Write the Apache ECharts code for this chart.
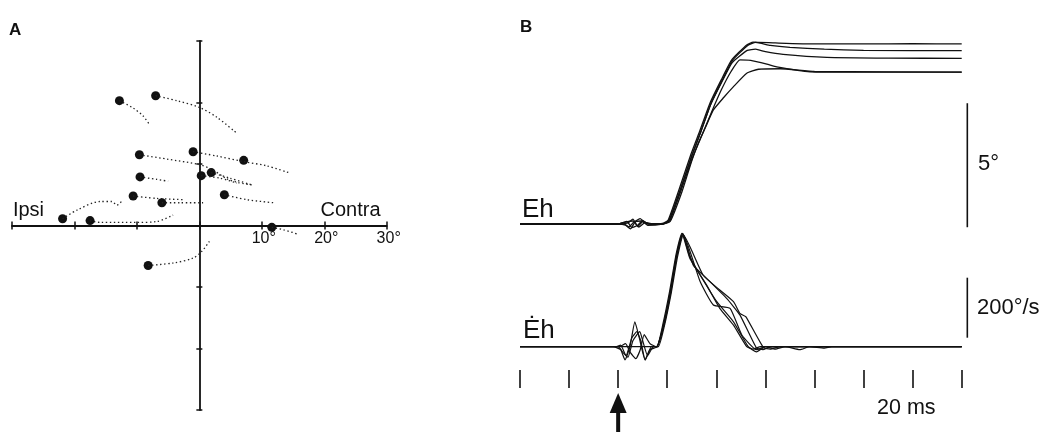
<!DOCTYPE html>
<html>
<head>
<meta charset="utf-8">
<script src="https://cdn.jsdelivr.net/npm/echarts@6/dist/echarts.min.js"></script>
<style>
  html, body { margin: 0; padding: 0; background: #fff; }
  #chart { width: 1041px; height: 432px; }
</style>
</head>
<body>
<div id="chart"></div>
<script>
// ---- panel A : start points (deg) and their dotted trajectories ----
const dotsA = [
  [-12.8, 20.3], [-7.0, 21.1], [-9.6, 11.5], [-1.0, 12.0], [7.1, 10.6],
  [-9.5, 7.9], [0.3, 8.1], [1.9, 8.6], [-10.6, 4.8], [-6.0, 3.7],
  [4.0, 5.0], [-21.9, 1.1], [-17.5, 0.8], [11.6, -0.3], [-8.2, -6.5]
];
const trajA = [
  [[-12.8, 20.3], [-10.6, 19.1], [-9.0, 17.8], [-7.9, 16.3]],
  [[-7.0, 21.1], [-3.6, 20.3], [0, 19.2], [2.8, 17.6], [6.0, 15.0]],
  [[-9.6, 11.5], [-5.2, 10.8], [0, 9.9], [2.2, 9.0], [4.4, 7.6], [6.2, 7.0], [8.4, 6.6]],
  [[-1.0, 12.0], [2.8, 11.3], [7.0, 10.4], [10.8, 9.7], [14.3, 8.6]],
  [[-9.5, 7.9], [-6.8, 7.5], [-5.0, 7.2]],
  [[0.3, 8.1], [3.3, 7.7], [6.0, 6.9]],
  [[1.9, 8.6], [4.9, 7.7], [8.4, 6.6]],
  [[-10.6, 4.8], [-6.8, 4.4], [-2.3, 4.2]],
  [[-6.0, 3.7], [-3.1, 3.7], [0.6, 3.7]],
  [[4.0, 5.0], [7.6, 4.2], [11.9, 3.7]],
  [[-21.9, 1.1], [-19.6, 2.5], [-15.9, 3.9], [-14.0, 3.9], [-13.2, 3.3], [-12.3, 4.1]],
  [[-17.5, 0.8], [-15.9, 0.5], [-10.0, 0.5], [-6.8, 0.65], [-4.2, 1.7]],
  [[11.6, -0.3], [13.5, -0.7], [15.6, -1.35]],
  [[-8.2, -6.5], [-4.2, -6.1], [-1.0, -5.3], [0.4, -4.2], [1.6, -2.6]]
];
const degTickLabels = [10, 20, 30];

// ---- panel B : eye position Eh (deg) vs time (ms) ----
const eh1 = [[0,0],[20,0],[21.5,-0.05],[22.5,-0.2],[23.5,0.1],[24.5,0.22],[25.5,0.05],[27,0],[29,0.02],[30.2,0.16],[32.6,1.5],[34.9,2.85],[36.7,3.79],[38.7,4.87],[41,5.81],[43.1,6.61],[46.2,7.22],[47.5,7.33],[52,7.3],[60,7.26],[70,7.26],[80,7.27],[90,7.26]];
const eh2 = [[0,0],[20,0],[21.8,0.1],[22.8,-0.15],[24,-0.05],[25,0.15],[26,0],[29,0],[30.4,0.15],[32.8,1.45],[35.1,2.8],[36.9,3.75],[38.9,4.85],[41.2,5.8],[43.3,6.6],[46.4,7.2],[48,7.32],[51,7.2],[55,7.12],[62,7.05],[70,7.0],[90,6.99]];
const eh3 = [[0,0],[20,0],[22,0.05],[23,0.2],[24,-0.1],[25,0.1],[26.5,0],[29,0],[30.3,0.12],[32.7,1.4],[35,2.75],[36.8,3.7],[38.8,4.8],[41.1,5.72],[43.2,6.5],[46.3,7.0],[48,7.05],[50,6.95],[53.6,6.84],[62.5,6.72],[75,6.69],[90,6.68]];
const eh4 = [[0,0],[20,0],[21.2,0],[22.2,-0.12],[23.2,0.08],[24.8,0.12],[26,-0.05],[29,0],[30.5,0.12],[32.9,1.4],[35.2,2.7],[37,3.55],[39,4.5],[41,5.4],[43,6.15],[44.8,6.62],[47,6.6],[50.3,6.45],[52.3,6.34],[59.1,6.14],[70,6.12],[90,6.12]];
const eh5 = [[0,0],[20,0],[21.5,0.08],[23,0.12],[24.2,-0.12],[25.5,0.06],[27,0],[29,0],[30.6,0.1],[33,1.3],[35,2.55],[36.2,3.2],[37.8,3.9],[39.4,4.6],[41.5,5.1],[43.5,5.54],[46.2,6.08],[48.6,6.24],[53,6.26],[60,6.15],[90,6.12]];

// ---- panel B : eye velocity (deg/s) vs time (ms) ----
const vel1 = [[0,0],[19,0],[20.5,-10],[21.4,-44],[22.4,0],[23.4,83],[24.3,30],[25.5,-44],[26.8,0],[27.9,0],[29.2,72],[30.6,183],[31.9,306],[33.1,378],[34.6,300],[36.7,239],[40.1,150],[43.5,83],[46.5,0],[48.2,-17],[50,0],[52,-8],[54,0],[57,-10],[59,0],[62,-5],[63.5,0],[90,0]];
const vel2 = [[0,0],[19.5,0],[20.5,5],[21.6,-30],[22.8,30],[23.8,50],[24.6,20],[25.5,-44],[26.5,-10],[28,0],[29.3,70],[30.7,180],[32,310],[33.2,375],[35.3,272],[38,228],[42.1,161],[44.8,106],[48.2,-5],[49.5,-10],[51,0],[90,0]];
const vel3 = [[0,0],[20,0],[21,-20],[22,-35],[23,20],[24.4,50],[25,20],[26,-30],[27.2,0],[28.2,0],[29.4,68],[30.8,178],[32.1,300],[33.3,372],[37.3,239],[40.7,189],[43.5,150],[44.8,111],[46,100],[49.6,-3],[51,-8],[53,0],[90,0]];
const vel4 = [[0,0],[20.2,0],[21.5,10],[22.5,-20],[23.6,-40],[24.5,-10],[25.3,40],[26.5,10],[27.8,0],[29.3,70],[30.7,182],[32,305],[33.2,376],[36.7,217],[39.4,139],[42.8,128],[45.2,39],[48.2,-10],[50,0],[90,0]];
const vel5 = [[0,0],[27,0],[27.9,0],[29.1,74],[30.5,186],[31.8,308],[33,378],[34.6,295],[38,206],[40.7,128],[43.5,72],[46.2,0],[47.5,-8],[49,0],[90,0]];
const timeTicks = [0, 10, 20, 30, 40, 50, 60, 70, 80, 90];

// scale bars and stimulus arrow (data units of panel B)
const posScaleBar = [[91.14, -0.13], [91.14, 4.87]];   // 5 deg
const velScaleBar = [[91.14, 30], [91.14, 230]];       // 200 deg/s
const arrowShaft = [[20, -285], [20, -215]];
const arrowHead = [[20, -188]];

const FONT = '"Liberation Sans", Arial, Helvetica, sans-serif';
const INK = '#111';

function txt(text, x, y, size, align, bold) {
  return {
    type: 'text', x: x, y: y, silent: true,
    style: {
      text: text, fill: INK, align: align || 'left', verticalAlign: 'top',
      font: (bold ? 'bold ' : '') + size + 'px ' + FONT
    }
  };
}

const chart = echarts.init(document.getElementById('chart'), null, { renderer: 'canvas' });

const hidden = { show: false };
const series = [];

// panel A trajectories
trajA.forEach(function (tr) {
  series.push({
    type: 'line', xAxisIndex: 0, yAxisIndex: 0, data: tr, smooth: 0.3,
    symbol: 'none', silent: true,
    lineStyle: { color: '#222', width: 1.3, type: [1.4, 2.6] }
  });
});
series.push({
  type: 'scatter', xAxisIndex: 0, yAxisIndex: 0, data: dotsA,
  symbolSize: 9, itemStyle: { color: INK, opacity: 1 }, silent: true
});
// degree labels along the horizontal axis
series.push({
  type: 'scatter', xAxisIndex: 0, yAxisIndex: 0, silent: true,
  data: degTickLabels.map(function (v) { return [v, 0]; }),
  symbolSize: 1, itemStyle: { color: 'rgba(0,0,0,0)', opacity: 1 },
  label: {
    show: true, position: 'bottom', distance: 5, offset: [2, 0],
    color: INK, fontSize: 16, fontFamily: FONT,
    formatter: function (p) { return p.value[0] + '°'; }
  }
});

// panel B traces
[eh1, eh2, eh3, eh4, eh5].forEach(function (d) {
  series.push({
    type: 'line', xAxisIndex: 2, yAxisIndex: 2, data: d, smooth: 0.15,
    symbol: 'none', silent: true, clip: false,
    lineStyle: { color: INK, width: 1.3 }
  });
});
[vel1, vel2, vel3, vel4, vel5].forEach(function (d) {
  series.push({
    type: 'line', xAxisIndex: 3, yAxisIndex: 3, data: d, smooth: 0.15,
    symbol: 'none', silent: true, clip: false,
    lineStyle: { color: INK, width: 1.2 }
  });
});
series.push({
  type: 'line', xAxisIndex: 2, yAxisIndex: 2, data: posScaleBar, symbol: 'none',
  clip: false, silent: true, lineStyle: { color: INK, width: 1.6 }
});
series.push({
  type: 'line', xAxisIndex: 3, yAxisIndex: 3, data: velScaleBar, symbol: 'none',
  clip: false, silent: true, lineStyle: { color: INK, width: 1.6 }
});
series.push({
  type: 'line', xAxisIndex: 3, yAxisIndex: 3, data: arrowShaft, symbol: 'none',
  clip: false, silent: true, lineStyle: { color: INK, width: 4 }
});
series.push({
  type: 'scatter', xAxisIndex: 3, yAxisIndex: 3, data: arrowHead, symbol: 'triangle',
  symbolSize: [17, 20], clip: false, silent: true, itemStyle: { color: INK, opacity: 1 }
});

const axisLineA = { color: INK, width: 1.8 };

chart.setOption({
  animation: false,
  backgroundColor: '#fff',
  grid: [
    { left: 12, top: 41, width: 374.7, height: 369, outerBoundsMode: 'none' },
    { left: 520, top: 25.6, width: 490.8, height: 223.2, outerBoundsMode: 'none' },
    { left: 520, top: 226.7, width: 490.8, height: 150, outerBoundsMode: 'none' }
  ],
  xAxis: [
    {
      gridIndex: 0, type: 'value', min: -30, max: 30, interval: 10, position: 'bottom',
      axisLine: { show: true, onZero: true, onZeroAxisIndex: 0, lineStyle: axisLineA },
      axisTick: { show: true, length: 4, lineStyle: { color: INK, width: 1.5 } },
      axisLabel: hidden,
      splitLine: hidden
    },
    {
      gridIndex: 0, type: 'value', min: -30, max: 30, interval: 10, position: 'top',
      axisLine: { show: false, onZero: true, onZeroAxisIndex: 0 },
      axisTick: { show: true, length: 4, lineStyle: { color: INK, width: 1.5 } },
      axisLabel: hidden, splitLine: hidden
    },
    {
      gridIndex: 1, type: 'value', min: 0, max: 100, interval: 10,
      axisLine: hidden, axisTick: hidden, axisLabel: hidden, splitLine: hidden
    },
    {
      gridIndex: 2, type: 'value', min: 0, max: 100, interval: 10, position: 'bottom',
      offset: -6.7,
      axisLine: { show: false, onZero: false },
      axisTick: { show: true, length: 18, customValues: timeTicks, lineStyle: { color: INK, width: 1.6 } },
      axisLabel: hidden, splitLine: hidden
    }
  ],
  yAxis: [
    {
      gridIndex: 0, type: 'value', min: -30, max: 30, interval: 10, position: 'left',
      axisLine: { show: true, onZero: true, onZeroAxisIndex: 0, lineStyle: axisLineA },
      axisTick: { show: true, length: 3, lineStyle: { color: INK, width: 1.5 } },
      axisLabel: hidden, splitLine: hidden
    },
    {
      gridIndex: 0, type: 'value', min: -30, max: 30, interval: 10, position: 'right',
      axisLine: { show: false, onZero: true, onZeroAxisIndex: 0 },
      axisTick: { show: true, length: 3, lineStyle: { color: INK, width: 1.5 } },
      axisLabel: hidden, splitLine: hidden
    },
    {
      gridIndex: 1, type: 'value', min: -1, max: 8, interval: 1,
      axisLine: { show: false, onZero: false }, axisTick: hidden, axisLabel: hidden, splitLine: hidden
    },
    {
      gridIndex: 2, type: 'value', min: -100, max: 400, interval: 100,
      axisLine: { show: false, onZero: false }, axisTick: hidden, axisLabel: hidden, splitLine: hidden
    }
  ],
  graphic: [
    txt('A', 9, 21.5, 17, 'left', true),
    txt('B', 520, 18.5, 17, 'left', true),
    txt('Ipsi', 28.5, 200, 20, 'center'),
    txt('Contra', 350.5, 200, 20, 'center'),
    txt('Eh', 522, 197, 26, 'left'),
    txt('Ėh', 523, 318, 26, 'left'),
    txt('5°', 978, 153.3, 22, 'left'),
    txt('200°/s', 977, 297.3, 22, 'left'),
    txt('20 ms', 877, 397.4, 21.5, 'left')
  ],
  series: series
});
</script>
</body>
</html>
